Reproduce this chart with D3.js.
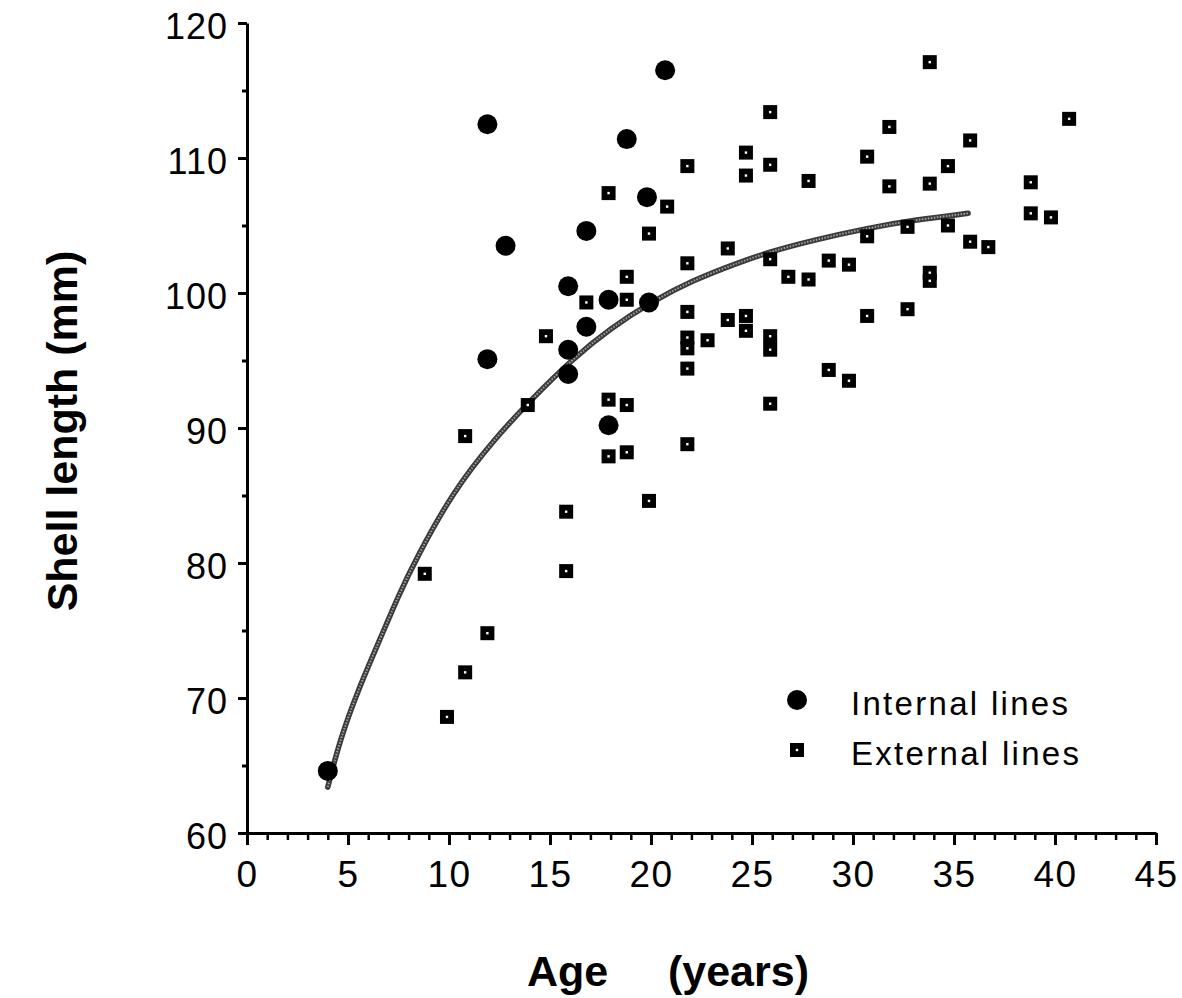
<!DOCTYPE html>
<html>
<head>
<meta charset="utf-8">
<script src="https://cdn.jsdelivr.net/npm/d3@7"></script>
<style>
  body { margin: 0; background: #fff; }
  svg { display: block; font-family: "Liberation Sans", Arial, Helvetica, sans-serif; }
  .tick-label { font-size: 36px; fill: #000; letter-spacing: 1px; }
  .axis-title { font-size: 43px; font-weight: bold; fill: #000; }
  .legend-label { font-size: 33px; letter-spacing: 2.3px; fill: #000; }
</style>
</head>
<body>
<svg id="chart" width="1182" height="998"></svg>
<script>
// Internal lines (circles): age, shell length
const internalAge = [4, 11.9, 11.9, 12.8, 15.9, 15.9, 15.9, 16.8, 16.8, 17.9, 17.9, 18.8, 19.8, 19.9, 20.7];
const internalLength = [64.6, 112.5, 95.1, 103.5, 100.5, 95.8, 94.0, 104.6, 97.5, 99.5, 90.2, 111.4, 107.1, 99.3, 116.5];

// External lines (squares)
const externalAge = [
  8.8, 9.9, 10.8, 10.8, 11.9, 13.9, 14.8, 15.8, 15.8,
  16.8, 17.9, 17.9, 17.9, 18.8, 18.8, 18.8, 18.8, 19.9, 19.9, 20.8,
  21.8, 21.8, 21.8, 21.8, 21.8, 21.8, 21.8, 22.8, 23.8, 23.8,
  24.7, 24.7, 24.7, 24.7, 25.9, 25.9, 25.9, 25.9, 25.9, 25.9,
  26.8, 27.8, 27.8, 28.8, 28.8, 29.8, 29.8,
  30.7, 30.7, 30.7, 31.8, 31.8, 32.7, 32.7,
  33.8, 33.8, 33.8, 33.8, 34.7, 34.7, 35.8, 35.8, 36.7,
  38.8, 38.8, 39.8, 40.7
];
const externalLength = [
  79.2, 68.6, 89.4, 71.9, 74.8, 91.7, 96.8, 83.8, 79.4,
  99.3, 107.4, 92.1, 87.9, 101.2, 99.5, 91.7, 88.2, 104.4, 84.6, 106.4,
  109.4, 102.2, 98.6, 96.7, 95.9, 94.4, 88.8, 96.5, 103.3, 98.0,
  110.4, 108.7, 98.3, 97.2, 113.4, 109.5, 102.5, 96.8, 95.8, 91.8,
  101.2, 108.3, 101.0, 102.4, 94.3, 102.1, 93.5,
  110.1, 104.2, 98.3, 112.3, 107.9, 104.9, 98.8,
  117.1, 108.1, 101.5, 100.9, 109.4, 105.0, 111.3, 103.8, 103.4,
  108.2, 105.9, 105.6, 112.9
];

// fitted growth curve
const curveAge = [4.0, 4.6, 5.5, 6.6, 7.5, 8.4, 10.2, 12.2, 14.0, 16.1, 18.0, 20.1, 22.0, 24.4, 26.0, 28.0, 30.7, 33.0, 35.7];
const curveLength = [63.4, 66.9, 70.6, 74.4, 77.6, 80.4, 85.3, 89.1, 92.0, 95.1, 97.4, 99.4, 100.9, 102.3, 103.1, 103.9, 104.8, 105.4, 105.9];

const xTicks = [0, 5, 10, 15, 20, 25, 30, 35, 40, 45];
const yTicks = [60, 70, 80, 90, 100, 110, 120];
const legendLabels = ['Internal lines', 'External lines'];

const svg = d3.select('#chart');

const x = d3.scaleLinear().domain([0, 45]).range([247, 1156]);
const y = d3.scaleLinear().domain([60, 120]).range([833, 23]);

// x axis: major every 5, minor every 1
const xMinor = svg.append('g')
  .attr('transform', `translate(0,${y(60)})`)
  .call(d3.axisBottom(x).tickValues(d3.range(0, 46, 1)).tickSize(7).tickFormat(''));
xMinor.select('.domain').remove();
xMinor.selectAll('line').attr('stroke-width', 2.5);

const xAxis = svg.append('g')
  .attr('transform', `translate(0,${y(60)})`)
  .call(d3.axisBottom(x).tickValues(xTicks).tickSize(12).tickSizeOuter(0).tickPadding(16));
xAxis.select('.domain').attr('stroke-width', 3);
xAxis.selectAll('line').attr('stroke-width', 3);
xAxis.selectAll('text')
  .attr('class', 'tick-label')
  .attr('font-family', null)
  .attr('font-size', null)
  .style('font-size', '37px')
  .style('letter-spacing', '1.5px');

// y axis: major every 10, minor every 5
const yMinor = svg.append('g')
  .attr('transform', `translate(${x(0)},0)`)
  .call(d3.axisLeft(y).tickValues(d3.range(65, 120, 10)).tickSize(5).tickFormat(''));
yMinor.select('.domain').remove();
yMinor.selectAll('line').attr('stroke-width', 3);

const yAxis = svg.append('g')
  .attr('transform', `translate(${x(0)},0)`)
  .call(d3.axisLeft(y).tickValues(yTicks).tickSize(9).tickSizeOuter(0).tickPadding(10));
yAxis.select('.domain').attr('stroke-width', 3);
yAxis.selectAll('line').attr('stroke-width', 3);
yAxis.selectAll('text')
  .attr('class', 'tick-label')
  .attr('font-family', null)
  .attr('font-size', null)
  .attr('dy', '0.42em');

// axis titles
svg.append('text')
  .attr('class', 'axis-title')
  .attr('transform', `translate(77,${431}) rotate(-90)`)
  .attr('text-anchor', 'middle')
  .text('Shell length (mm)');

svg.append('text')
  .attr('class', 'axis-title')
  .attr('x', 668)
  .attr('y', 986)
  .attr('text-anchor', 'middle')
  .style('white-space', 'pre')
  .text('Age     (years)');

// growth curve
const curveData = curveAge.map((a, i) => [a, curveLength[i]]);
const line = d3.line()
  .x((d) => x(d[0]))
  .y((d) => y(d[1]))
  .curve(d3.curveBasis);

svg.append('path')
  .datum(curveData)
  .attr('d', line)
  .attr('fill', 'none')
  .attr('stroke', '#3a3a3a')
  .attr('stroke-width', 5.5)
  .attr('stroke-linecap', 'round');
svg.append('path')
  .datum(curveData)
  .attr('d', line)
  .attr('fill', 'none')
  .attr('stroke', '#a0a0a0')
  .attr('stroke-width', 2)
  .attr('stroke-dasharray', '1.5 1.5');

// external lines: black squares with a small white centre
const sq = 14;
const externalData = externalAge.map((a, i) => ({age: a, len: externalLength[i]}));
const squares = svg.append('g')
  .selectAll('.ext')
  .data(externalData)
  .enter()
  .append('g')
    .attr('class', 'ext')
    .attr('transform', (d) => `translate(${x(d.age)},${y(d.len)})`);
squares.append('rect')
  .attr('x', -sq / 2).attr('y', -sq / 2)
  .attr('width', sq).attr('height', sq)
  .attr('fill', '#000');
squares.append('rect')
  .attr('x', -1.2).attr('y', -1.2)
  .attr('width', 2.4).attr('height', 2.4)
  .attr('fill', '#fff');

// internal lines: filled circles
const internalData = internalAge.map((a, i) => ({age: a, len: internalLength[i]}));
svg.append('g')
  .selectAll('circle')
  .data(internalData)
  .enter()
  .append('circle')
    .attr('cx', (d) => x(d.age))
    .attr('cy', (d) => y(d.len))
    .attr('r', 10)
    .attr('fill', '#000');

// legend
const legend = svg.append('g').attr('transform', 'translate(797,700)');
legend.append('circle').attr('r', 10).attr('fill', '#000');
legend.append('rect')
  .attr('x', -sq / 2).attr('y', 50 - sq / 2)
  .attr('width', sq).attr('height', sq)
  .attr('fill', '#000');
legend.append('rect')
  .attr('x', -1.2).attr('y', 48.8)
  .attr('width', 2.4).attr('height', 2.4)
  .attr('fill', '#fff');
legend.selectAll('.legend-label')
  .data(legendLabels)
  .enter()
  .append('text')
    .attr('class', 'legend-label')
    .attr('x', 54)
    .attr('y', (d, i) => 15 + i * 50)
    .text((d) => d);
</script>
</body>
</html>
